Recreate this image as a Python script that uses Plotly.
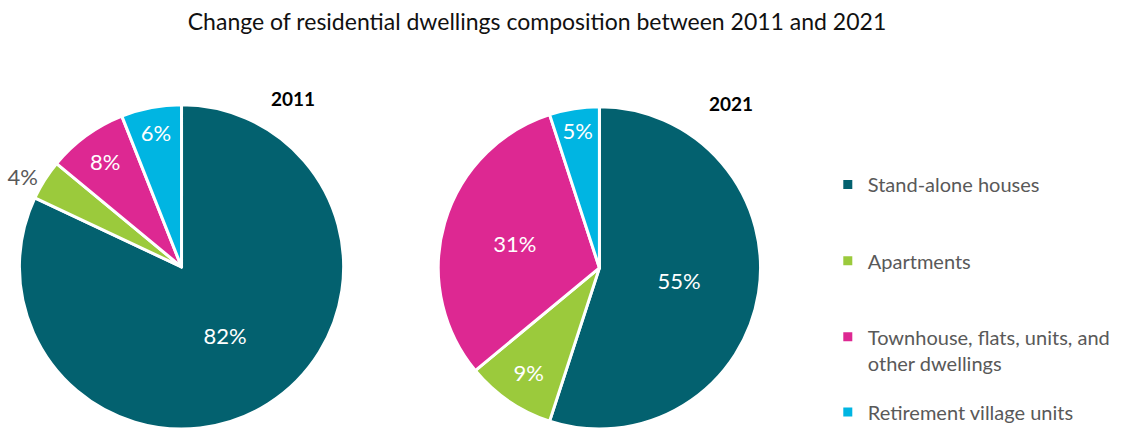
import plotly.graph_objects as go

categories = ["Stand-alone houses", "Apartments", "Townhouse, flats, units, and other dwellings", "Retirement village units"]
legend_labels = ["Stand-alone houses", "Apartments", "Townhouse, flats, units, and<br>other dwellings", "Retirement village units"]
values_2011 = [82, 4, 8, 6]
values_2021 = [55, 9, 31, 5]
colors = ["#03616F", "#9BCA3C", "#DD2892", "#00B5E2"]
title_text = "Change of residential dwellings composition between 2011 and 2021"

W, H = 1126, 434
FONT = "Lato"

def dom(cx, cy, r):
    return dict(x=[(cx - r) / W, (cx + r) / W], y=[max(0, (H - (cy + r)) / H), min(1, (H - (cy - r)) / H)])

fig = go.Figure()

fig.add_trace(go.Pie(
    labels=categories, values=values_2011, sort=False, direction="clockwise", rotation=0,
    marker=dict(colors=colors, line=dict(color="white", width=3)),
    texttemplate="%{value}%",
    textposition=["inside", "outside", "inside", "inside"],
    insidetextorientation="horizontal",
    insidetextfont=dict(color="white", size=22, family=FONT),
    outsidetextfont=dict(color="#595959", size=22, family=FONT),
    domain=dom(179, 270, 164), showlegend=False, hoverinfo="label+percent",
))
fig.add_trace(go.Pie(
    labels=categories, values=values_2021, sort=False, direction="clockwise", rotation=0,
    marker=dict(colors=colors, line=dict(color="white", width=3)),
    texttemplate="%{value}%",
    textposition="inside",
    insidetextorientation="horizontal",
    insidetextfont=dict(color="white", size=22, family=FONT),
    domain=dom(598, 271, 163), showlegend=False, hoverinfo="label+percent",
))

legend_y = [184, 261, 338, 414]
for i, (lab, col) in enumerate(zip(legend_labels, colors)):
    lname = "legend" if i == 0 else f"legend{i+1}"
    fig.add_trace(go.Scatter(
        x=[None], y=[None], mode="markers", name=lab,
        marker=dict(symbol="square", size=9, color=col),
        showlegend=True, legend=lname,
    ))
    fig.update_layout({lname: dict(
        x=827 / W, y=1 - (legend_y[i] - 17) / H, xanchor="left", yanchor="top",
        font=dict(family=FONT, size=20, color="#595959"),
        bgcolor="rgba(0,0,0,0)", valign="top", itemclick=False,
    )})

fig.update_layout(
    width=W, height=H,
    margin=dict(l=0, r=0, t=0, b=0),
    paper_bgcolor="white", plot_bgcolor="white",
    xaxis=dict(visible=False, domain=[0.99, 1]), yaxis=dict(visible=False, domain=[0.99, 1]),
    title=dict(text=title_text, x=537 / W, xanchor="center", y=1 - 22 / H, yanchor="middle",
               font=dict(family=FONT, size=23, color="#111111")),
    annotations=[
        dict(text="<b>2011</b>", x=291 / W, y=1 - 100 / H, xref="paper", yref="paper",
             xanchor="center", yanchor="middle",
             showarrow=False, font=dict(family=FONT, size=19, color="black")),
        dict(text="<b>2021</b>", x=730 / W, y=1 - 105 / H, xref="paper", yref="paper",
             xanchor="center", yanchor="middle",
             showarrow=False, font=dict(family=FONT, size=19, color="black")),
    ],
)

fig.write_html("out.html")
